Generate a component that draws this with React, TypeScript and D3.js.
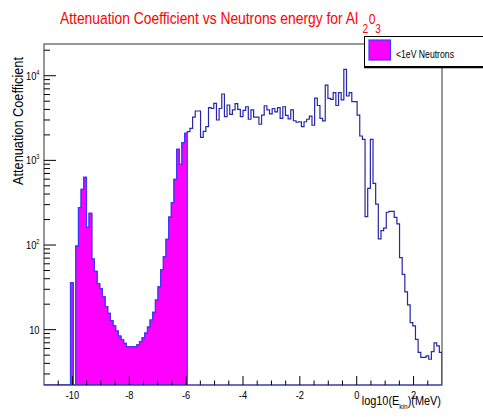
import React from 'react';
import * as d3 from 'd3';

// histogram binning: 150 bins over log10(E/MeV) in [-11, 3]
const xMin = -11;
const xMax = 3;
const nBins = 150;
const cutBin = 54; // bins below log10(E) = -6 are the <1eV part

// attenuation coefficient per bin
const counts = [
  0, 0, 0, 0, 0, 0, 0, 0, 0, 0,
  36, 0, 97, 276, 455, 630, 162, 237, 68, 49,
  35, 30.5, 24.5, 18.7, 15.6, 12.8, 11.1, 9.6, 8.4, 7.6,
  6.9, 6.3, 6.3, 6.3, 6.3, 6.6, 7.2, 8.0, 9.1, 10.7,
  13, 16, 22.4, 32, 51, 73, 117, 213, 316, 597,
  1350, 900, 1620, 2090, 2190, 2390, 3240, 3830, 3830, 1870,
  2200, 2500, 4190, 4100, 4720, 3000, 4100, 6080, 3280, 4510,
  3500, 3960, 4680, 4000, 3280, 3900, 4300, 3060, 3960, 3240,
  3240, 2670, 3430, 4420, 3960, 3550, 4100, 3750, 4190, 3140,
  4300, 3400, 3100, 3960, 2940, 2820, 2860, 2500, 2860, 3060,
  3330, 2600, 5450, 4450, 3140, 2930, 7760, 5400, 5260, 6300,
  4450, 6300, 5180, 11900, 5760, 6300, 4930, 4930, 3430, 1940,
  1770, 216, 467, 1770, 536, 305, 118, 148, 158, 244,
  250, 250, 212, 178, 71, 45, 28, 19.6, 12.1, 11.1,
  7.7, 5.4, 4.7, 4.7, 4.9, 4.47, 5.5, 7.0, 6.45, 5.4,
];

const xMajorTicks = [-10, -8, -6, -4, -2, 0, 2];
const yMajorTicks = [10, 100, 1000, 10000];
const yTickExp = ['', '2', '3', '4'];

const W = 483;
const H = 417;
const frame = { left: 44, right: 442, top: 44, bottom: 385 };
const SX = 0.81; // the png text is rendered narrow

const x = d3.scaleLinear().domain([xMin, xMax]).range([frame.left, frame.right]);
const y = d3.scaleLog().domain([2.22, 23700]).range([frame.bottom, frame.top]);
const binW = (xMax - xMin) / nBins;

function stepPoints(vals: number[], first: number, last: number): [number, number][] {
  const y0 = frame.bottom;
  const pts: [number, number][] = [[x(xMin + first * binW), y0]];
  for (let k = first; k < last; k++) {
    const yv = vals[k] > 0 ? y(vals[k]) : y0;
    pts.push([x(xMin + k * binW), yv]);
    pts.push([x(xMin + (k + 1) * binW), yv]);
  }
  pts.push([x(xMin + last * binW), y0]);
  return pts;
}

const line = d3.line();

const font = '"Liberation Sans", Arial, Helvetica, sans-serif';

export default function App() {
  const mainPath = line(stepPoints(counts, 0, nBins)) as string;
  const lowPath = line(stepPoints(counts, 0, cutBin)) as string;

  // minor ticks
  const xMinor = d3.range(-10.5, 3, 0.5).filter((v) => !xMajorTicks.includes(v));
  const yMinor: number[] = [];
  [1, 10, 100, 1000, 10000].forEach((dec) => {
    for (let m = 2; m <= 9; m++) {
      const v = dec * m;
      if (v >= 2.22 && v <= 23700) yMinor.push(v);
    }
  });

  return (
    <svg width={W} height={H} style={{ position: 'absolute', left: 0, top: 0, background: '#fff' }} fontFamily={font}>
      <defs>
        <clipPath id="plotclip">
          <rect x={frame.left} y={frame.top} width={frame.right - frame.left} height={frame.bottom - frame.top} />
        </clipPath>
      </defs>

      {/* title */}
      <text transform={`translate(60,24)`} fontSize={17} fill="#ff0000" textLength={298} lengthAdjust="spacingAndGlyphs">
        Attenuation Coefficient vs Neutrons energy for Al
      </text>
      <text transform="translate(362.5,33) scale(0.81,1)" fontSize={12.5} fill="#ff0000">2</text>
      <text transform="translate(368.8,24) scale(0.81,1)" fontSize={15} fill="#ff0000">0</text>
      <text transform="translate(375.3,33) scale(0.81,1)" fontSize={12.5} fill="#ff0000">3</text>

      {/* histograms */}
      <g clipPath="url(#plotclip)">
        <path d={mainPath} fill="none" stroke="#2626a8" strokeWidth={1.2} />
        <path d={lowPath + 'Z'} fill="#ff00ff" stroke="#3a3aff" strokeWidth={1.2} />
      </g>

      {/* frame */}
      <rect x={frame.left} y={frame.top} width={frame.right - frame.left} height={frame.bottom - frame.top}
        fill="none" stroke="#333" strokeWidth={1} />
      <line x1={frame.left} x2={frame.right} y1={frame.bottom} y2={frame.bottom} stroke="#4040e0" strokeWidth={1.2} />

      {/* x ticks */}
      {xMajorTicks.map((v) => (
        <g key={'xm' + v}>
          <line x1={x(v)} x2={x(v)} y1={frame.bottom} y2={frame.bottom - 9} stroke="#000" />
          <text transform={`translate(${x(v)},399) scale(${SX},1)`} textAnchor="middle" fontSize={11.5} fill="#000">
            {v}
          </text>
        </g>
      ))}
      {xMinor.map((v) => (
        <line key={'xn' + v} x1={x(v)} x2={x(v)} y1={frame.bottom} y2={frame.bottom - 4.5} stroke="#000" />
      ))}

      {/* y ticks */}
      {yMajorTicks.map((v, i) => (
        <g key={'ym' + v}>
          <line x1={frame.left} x2={frame.left + 12} y1={y(v)} y2={y(v)} stroke="#000" />
          <text transform={`translate(39.5,${y(v) + 4}) scale(${SX},1)`} textAnchor="end" fontSize={11.5} fill="#000">
            10
            {yTickExp[i] && (
              <tspan fontSize={7} dy={-5}>{yTickExp[i]}</tspan>
            )}
          </text>
        </g>
      ))}
      {yMinor.map((v) => (
        <line key={'yn' + v} x1={frame.left} x2={frame.left + 6} y1={y(v)} y2={y(v)} stroke="#000" />
      ))}

      {/* axis titles */}
      <text transform="translate(22.5,57) rotate(-90)" textAnchor="end" fontSize={14.5} fill="#000"
        textLength={128} lengthAdjust="spacingAndGlyphs">
        Attenuation Coefficient
      </text>
      <text transform="translate(441,405) scale(0.81,1)" textAnchor="end" fontSize={13.5} fill="#000">
        log10(E<tspan fontSize={8} dy={4}>kin</tspan><tspan dy={-4}>)(MeV)</tspan>
      </text>

      {/* legend */}
      <rect x={364.5} y={36.5} width={130} height={30} fill="#fff" stroke="#000" strokeWidth={1} />
      <line x1={364} x2={490} y1={67.5} y2={67.5} stroke="#000" strokeWidth={1.5} />
      <rect x={369} y={40} width={21.5} height={20} fill="#ff00ff" stroke="#3a3aff" strokeWidth={1.2} />
      <text transform="translate(396,57.5) scale(0.81,1)" fontSize={10.7} fill="#000">
        &lt;1eV Neutrons
      </text>
    </svg>
  );
}
